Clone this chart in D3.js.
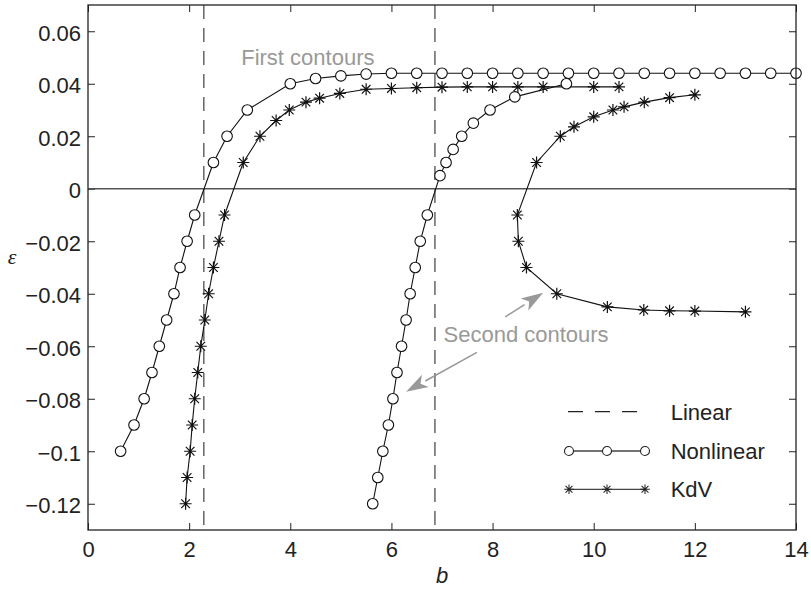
<!DOCTYPE html>
<html>
<head>
<meta charset="utf-8">
<script src="https://cdn.jsdelivr.net/npm/d3@7"></script>
<style>
  body { margin: 0; background: white; }
  text { font-family: "Liberation Sans", Arial, sans-serif; }
</style>
</head>
<body>
<div id="container"></div>
<script>
// Nonlinear, first contour
let nonB1 = [0.645, 0.91, 1.11, 1.265, 1.41, 1.555, 1.70, 1.82, 1.96, 2.11, 2.48, 2.75, 3.15,
  4.0, 4.5, 5.0, 5.5, 6.0, 6.5, 7.0, 7.5, 8.0, 8.5, 9.0, 9.5, 10.0, 10.5, 11.0, 11.5, 12.0, 12.5, 13.0, 13.5, 14.0];
let nonE1 = [-0.10, -0.09, -0.08, -0.07, -0.06, -0.05, -0.04, -0.03, -0.02, -0.01, 0.01, 0.02, 0.03,
  0.040, 0.042, 0.043, 0.0437, 0.044, 0.044, 0.044, 0.044, 0.044, 0.044, 0.044, 0.044, 0.044, 0.044, 0.044, 0.044, 0.044, 0.044, 0.044, 0.044, 0.044];

// Nonlinear, second contour
let nonB2 = [5.63, 5.73, 5.83, 5.94, 6.03, 6.11, 6.20, 6.29, 6.37, 6.47, 6.57, 6.71,
  6.96, 7.08, 7.22, 7.39, 7.62, 7.95, 8.44, 9.46];
let nonE2 = [-0.12, -0.11, -0.10, -0.09, -0.08, -0.07, -0.06, -0.05, -0.04, -0.03, -0.02, -0.01,
  0.005, 0.01, 0.015, 0.02, 0.025, 0.03, 0.035, 0.040];

// KdV, first contour
let kdvB1 = [1.93, 1.96, 2.02, 2.06, 2.11, 2.17, 2.23, 2.31, 2.385, 2.48, 2.59, 2.70,
  3.07, 3.40, 3.72, 3.98, 4.31, 4.58, 4.98, 5.5, 6.0, 6.5, 7.0, 7.5, 8.0, 8.5, 9.0, 10.0, 10.5];
let kdvE1 = [-0.12, -0.11, -0.10, -0.09, -0.08, -0.07, -0.06, -0.05, -0.04, -0.03, -0.02, -0.01,
  0.01, 0.02, 0.026, 0.030, 0.033, 0.0345, 0.0363, 0.0379, 0.0382, 0.0385, 0.0387, 0.0388, 0.0388, 0.0388, 0.0388, 0.0388, 0.0388];

// KdV, second contour
let kdvB2 = [13.0, 12.0, 11.5, 10.99, 10.27, 9.27, 8.67, 8.51, 8.49,
  8.87, 9.34, 9.61, 10.0, 10.38, 10.6, 11.0, 11.5, 12.0];
let kdvE2 = [-0.0469, -0.0466, -0.0465, -0.0462, -0.045, -0.040, -0.030, -0.020, -0.010,
  0.010, 0.020, 0.0236, 0.0274, 0.030, 0.0312, 0.033, 0.0347, 0.0358];

// linear theory
let linearB = [2.29, 6.86];

let xTicks = [0, 2, 4, 6, 8, 10, 12, 14];
let yTicks = [-0.12, -0.1, -0.08, -0.06, -0.04, -0.02, 0, 0.02, 0.04, 0.06];

let legendNames = ["Linear", "Nonlinear", "KdV"];

let w = 811;
let h = 589;
let mLeft = 88, mRight = 796, mTop = 5, mBottom = 530;

let viz = d3.select("#container")
  .append("svg")
    .attr("width", w)
    .attr("height", h)
    .style("background-color", "white")
;

let xScale = d3.scaleLinear().domain([0, 14]).range([mLeft, mRight]);
let yScale = d3.scaleLinear().domain([-0.13, 0.07]).range([mBottom, mTop]);

function zipPoints(bs, es){
  return bs.map(function(b, i){ return {b: b, e: es[i]}; });
}

function fmt(v){
  return String(+v.toFixed(2)).replace("-", "\u2212");
}

// axes with inward ticks
let xAxis = viz.append("g")
  .attr("transform", "translate(0," + mBottom + ")")
  .call(d3.axisBottom(xScale).tickValues(xTicks).tickSizeInner(-7).tickSizeOuter(0).tickPadding(11).tickFormat(d3.format("d")));
let xAxisTop = viz.append("g")
  .attr("transform", "translate(0," + mTop + ")")
  .call(d3.axisTop(xScale).tickValues(xTicks).tickSizeInner(-7).tickSizeOuter(0).tickFormat(""));
let yAxis = viz.append("g")
  .attr("transform", "translate(" + mLeft + ",0)")
  .call(d3.axisLeft(yScale).tickValues(yTicks).tickSizeInner(-7).tickSizeOuter(0).tickPadding(7).tickFormat(fmt));
let yAxisRight = viz.append("g")
  .attr("transform", "translate(" + mRight + ",0)")
  .call(d3.axisRight(yScale).tickValues(yTicks).tickSizeInner(-7).tickSizeOuter(0).tickFormat(""));

viz.selectAll(".domain").remove();
viz.selectAll(".tick line").attr("stroke", "#222");
viz.selectAll(".tick text")
  .style("font-size", "22px")
  .attr("fill", "#222");
yAxis.selectAll(".tick text").attr("dy", "0.4em");

// zero line
viz.append("line")
  .attr("x1", mLeft).attr("x2", mRight)
  .attr("y1", yScale(0)).attr("y2", yScale(0))
  .attr("stroke", "#555")
  .attr("stroke-width", 1.3);

// linear predictions
viz.selectAll(".linear").data(linearB).enter()
  .append("line")
    .classed("linear", true)
    .attr("x1", function(d){ return xScale(d); })
    .attr("x2", function(d){ return xScale(d); })
    .attr("y1", mTop)
    .attr("y2", mBottom)
    .attr("stroke", "#666")
    .attr("stroke-width", 1.5)
    .attr("stroke-dasharray", "14,9")
;

let line = d3.line()
  .x(function(d){ return xScale(d.b); })
  .y(function(d){ return yScale(d.e); });

let starPath = "M0,-6V6M-6,0H6M-4.3,-4.3L4.3,4.3M-4.3,4.3L4.3,-4.3";

function drawCurve(pts){
  viz.append("path")
    .datum(pts)
    .attr("d", line)
    .attr("fill", "none")
    .attr("stroke", "#111")
    .attr("stroke-width", 1.1);
}

function drawMarkers(pts, kind){
  if (kind == "circle") {
    viz.append("g").selectAll("circle").data(pts).enter()
      .append("circle")
        .attr("cx", function(d){ return xScale(d.b); })
        .attr("cy", function(d){ return yScale(d.e); })
        .attr("r", 5.3)
        .attr("fill", "white")
        .attr("stroke", "#111")
        .attr("stroke-width", 1.1);
  } else {
    viz.append("g").selectAll("path").data(pts).enter()
      .append("path")
        .attr("d", starPath)
        .attr("transform", function(d){ return "translate(" + xScale(d.b) + "," + yScale(d.e) + ")"; })
        .attr("fill", "none")
        .attr("stroke", "#111")
        .attr("stroke-width", 1.2);
  }
}

let series = [
  {pts: zipPoints(kdvB1, kdvE1), kind: "star"},
  {pts: zipPoints(kdvB2, kdvE2), kind: "star"},
  {pts: zipPoints(nonB1, nonE1), kind: "circle"},
  {pts: zipPoints(nonB2, nonE2), kind: "circle"}
];
series.forEach(function(s){ drawCurve(s.pts); });
series.forEach(function(s){ drawMarkers(s.pts, s.kind); });

// annotations
let gray = "#999";
viz.append("text")
  .text("First contours")
  .attr("x", xScale(3.03))
  .attr("y", yScale(0.0471))
  .style("font-size", "22px")
  .attr("fill", gray);

viz.append("text")
  .text("Second contours")
  .attr("x", xScale(7.03))
  .attr("y", yScale(-0.0583))
  .style("font-size", "22px")
  .attr("fill", gray);

let arrows = [
  {b0: 8.25, e0: -0.0488, b1: 9.0, e1: -0.0396},
  {b0: 7.69, e0: -0.0623, b1: 6.29, e1: -0.0773}
];
arrows.forEach(function(a){
  let x0 = xScale(a.b0), y0 = yScale(a.e0), x1 = xScale(a.b1), y1 = yScale(a.e1);
  let ang = Math.atan2(y1 - y0, x1 - x0);
  let len = 22, half = 7;
  let bx = x1 - len * Math.cos(ang), by = y1 - len * Math.sin(ang);
  viz.append("line")
    .attr("x1", x0).attr("y1", y0)
    .attr("x2", bx).attr("y2", by)
    .attr("stroke", gray)
    .attr("stroke-width", 1.5);
  let p1 = [bx + half * Math.sin(ang), by - half * Math.cos(ang)];
  let p2 = [bx - half * Math.sin(ang), by + half * Math.cos(ang)];
  let notch = [x1 - len * 0.75 * Math.cos(ang), y1 - len * 0.75 * Math.sin(ang)];
  viz.append("path")
    .attr("d", "M" + x1 + "," + y1 + "L" + p1 + "L" + notch + "L" + p2 + "Z")
    .attr("fill", gray);
});

// legend
let legY = [411.7, 451, 489.3];
let legend = viz.append("g");
legendNames.forEach(function(name, i){
  let g = legend.append("g").attr("transform", "translate(0," + legY[i] + ")");
  if (i == 0) {
    g.append("line").attr("x1", 568).attr("x2", 645).attr("y1", 0).attr("y2", 0)
      .attr("stroke", "#222").attr("stroke-width", 1.2).attr("stroke-dasharray", "15,12");
  } else {
    g.append("line").attr("x1", 569).attr("x2", 645).attr("y1", 0).attr("y2", 0)
      .attr("stroke", "#444").attr("stroke-width", 1.3);
    [569, 607, 645].forEach(function(mx){
      if (i == 1) {
        g.append("circle").attr("cx", mx).attr("cy", 0).attr("r", 4.5)
          .attr("fill", "white").attr("stroke", "#222").attr("stroke-width", 1.1);
      } else {
        g.append("path").attr("d", starPath).attr("transform", "translate(" + mx + ",0) scale(0.8)")
          .attr("fill", "none").attr("stroke", "#222").attr("stroke-width", 1.3);
      }
    });
  }
  g.append("text")
    .text(name)
    .attr("x", 670.7)
    .attr("y", 8)
    .style("font-size", "22px")
    .attr("fill", "#222");
});

// box on top
viz.append("rect")
  .attr("x", mLeft).attr("y", mTop)
  .attr("width", mRight - mLeft).attr("height", mBottom - mTop)
  .attr("fill", "none")
  .attr("stroke", "#222")
  .attr("stroke-width", 1.3);

// axis titles
viz.append("text")
  .text("b")
  .attr("x", xScale(7))
  .attr("y", 583)
  .attr("text-anchor", "middle")
  .style("font-size", "22px")
  .style("font-style", "italic")
  .attr("fill", "#222");

viz.append("text")
  .text("\u03b5")
  .attr("x", 12)
  .attr("y", 257)
  .attr("text-anchor", "middle")
  .attr("dy", "0.3em")
  .style("font-size", "22px")
  .style("font-family", "'Liberation Serif', 'DejaVu Serif', serif")
  .style("font-style", "italic")
  .attr("fill", "#222");
</script>
</body>
</html>
